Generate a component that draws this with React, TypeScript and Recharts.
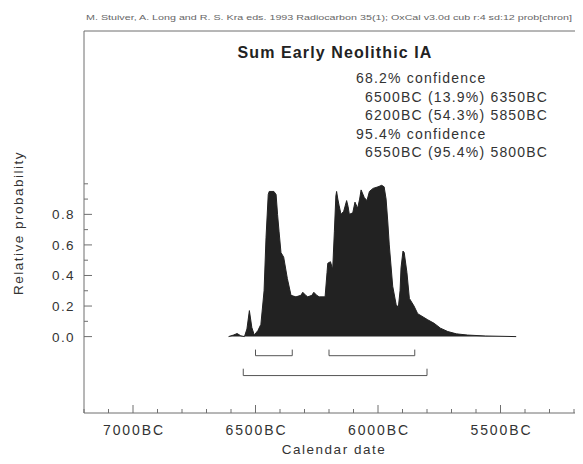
import { AreaChart, Area, XAxis, YAxis, ReferenceLine } from "recharts";

// summed probability (years BC, relative probability)
const yearsBC = [
  6610, 6590, 6575, 6560, 6545, 6535, 6525, 6515, 6505, 6490, 6478, 6465, 6457, 6448, 6444,
  6425, 6416, 6410, 6404, 6396, 6385, 6370, 6355, 6335, 6315, 6307, 6295, 6287, 6270, 6262,
  6250, 6240, 6216, 6208, 6205, 6194, 6185, 6178, 6172, 6169, 6164, 6159, 6151, 6140, 6128,
  6122, 6117, 6103, 6094, 6083, 6075, 6069, 6056, 6045, 6035, 6020, 6000, 5985, 5975, 5967,
  5960, 5954, 5940, 5926, 5917, 5910, 5906, 5898, 5893, 5882, 5872, 5853, 5838, 5797, 5771,
  5745, 5715, 5680, 5634, 5560, 5436,
];
const probability = [
  0, 0.01, 0.02, 0.005, 0, 0.05, 0.17, 0.06, 0.01, 0.04, 0.08, 0.3, 0.65, 0.93, 0.95,
  0.95, 0.93, 0.8, 0.69, 0.55, 0.52, 0.38, 0.27, 0.26, 0.27, 0.29, 0.27, 0.26, 0.27, 0.29,
  0.27, 0.26, 0.26, 0.42, 0.48, 0.49, 0.44, 0.69, 0.92, 0.95, 0.9, 0.86, 0.8, 0.82, 0.89,
  0.85, 0.8, 0.81, 0.88, 0.84, 0.9, 0.96, 0.91, 0.89, 0.95, 0.97, 0.98, 0.99, 0.98, 0.9,
  0.75, 0.6, 0.33, 0.21, 0.19, 0.3, 0.45, 0.56, 0.55, 0.42, 0.25, 0.2, 0.15, 0.11, 0.087,
  0.055, 0.033, 0.018, 0.01, 0.004, 0,
];

const xTickYears = [
  7200, 7100, 7000, 6900, 6800, 6700, 6600, 6500, 6400, 6300, 6200, 6100, 6000, 5900, 5800,
  5700, 5600, 5500, 5400, 5300, 5200, 5100, 5000,
];
const xLabelYears = [7000, 6500, 6000, 5500];
const yTickValues = [0, 0.1, 0.2, 0.3, 0.4, 0.5, 0.6, 0.7, 0.8, 0.9, 1.0];
const yLabelValues = [0, 0.2, 0.4, 0.6, 0.8];

// highest probability ranges [from, to] in years BC
const ranges68 = [
  [6500, 6350],
  [6200, 5850],
];
const ranges95 = [[6550, 5800]];

const title = "Sum Early Neolithic IA";
const header =
  "M. Stuiver, A. Long and R. S. Kra eds. 1993 Radiocarbon 35(1); OxCal v3.0d cub r:4 sd:12 prob[chron]";
const confidenceText = [
  { text: "68.2% confidence", indent: false },
  { text: "6500BC (13.9%) 6350BC", indent: true },
  { text: "6200BC (54.3%) 5850BC", indent: true },
  { text: "95.4% confidence", indent: false },
  { text: "6550BC (95.4%) 5800BC", indent: true },
];

const data = yearsBC.map((yr, i) => ({ date: -yr, p: probability[i] }));

const FONT = '"Liberation Sans", Arial, sans-serif';
const INK = "#333";
const AXIS = "#6f6f6f";
const FILL = "#222";

function YTick(props: any) {
  const { x, y, payload } = props;
  const v = payload.value;
  const major = yLabelValues.includes(v);
  return (
    <g>
      <line x1={x} x2={x + (major ? 8 : 4)} y1={y} y2={y} stroke={AXIS} />
      {major && (
        <text x={x - 9} y={y + 5} textAnchor="end" fontSize={13.5} letterSpacing={1.4} fill={INK} fontFamily={FONT}>
          {v.toFixed(1)}
        </text>
      )}
    </g>
  );
}

function XTick(props: any) {
  const { x, y, payload } = props;
  const yr = -payload.value;
  const major = xLabelYears.includes(yr);
  return (
    <g>
      <line x1={x} x2={x} y1={y} y2={y - (major ? 8 : 4)} stroke={AXIS} />
      {major && (
        <text x={x + 1} y={y + 22} textAnchor="middle" fontSize={14} letterSpacing={1.9} fill={INK} fontFamily={FONT}>
          {yr}BC
        </text>
      )}
    </g>
  );
}

function bracket(from: number, to: number, low: number, high: number, key: string) {
  const stroke = { stroke: "#555", strokeWidth: 1 };
  return [
    <ReferenceLine key={key + "h"} segment={[{ x: -from, y: low }, { x: -to, y: low }]} {...stroke} />,
    <ReferenceLine key={key + "l"} segment={[{ x: -from, y: low }, { x: -from, y: high }]} {...stroke} />,
    <ReferenceLine key={key + "r"} segment={[{ x: -to, y: low }, { x: -to, y: high }]} {...stroke} />,
  ];
}

export default function App() {
  return (
    <div style={{ position: "relative", width: 575, height: 456, overflow: "hidden", background: "#fff" }}>
      <AreaChart width={640} height={456} data={data} margin={{ top: 21, right: 25, bottom: 11, left: 16 }}>
        <XAxis
          dataKey="date"
          type="number"
          domain={[-7200, -5000]}
          ticks={xTickYears.map((y) => -y)}
          interval={0}
          height={40}
          tickSize={0}
          tickMargin={0}
          tickLine={false}
          tick={<XTick />}
          axisLine={{ stroke: AXIS }}
        />
        <XAxis
          xAxisId="top"
          orientation="top"
          type="number"
          domain={[-7200, -5000]}
          height={2}
          tick={false}
          tickLine={false}
          axisLine={{ stroke: AXIS }}
        />
        <YAxis
          type="number"
          domain={[-0.5, 2]}
          ticks={yTickValues}
          interval={0}
          width={60}
          tickSize={0}
          tickMargin={0}
          tickLine={false}
          tick={<YTick />}
          axisLine={{ stroke: AXIS }}
        />
        <Area
          type="linear"
          dataKey="p"
          baseValue={0}
          stroke={FILL}
          strokeWidth={1}
          fill={FILL}
          fillOpacity={1}
          isAnimationActive={false}
        />
        {ranges68.flatMap(([a, b], i) => bracket(a, b, -0.125, -0.085, "r68" + i))}
        {ranges95.flatMap(([a, b], i) => bracket(a, b, -0.255, -0.21, "r95" + i))}
      </AreaChart>
      <svg
        width={575}
        height={456}
        style={{ position: "absolute", left: 0, top: 0, pointerEvents: "none" }}
        fontFamily={FONT}
      >
        <text x={78} y={12} fontSize={7} fill="#666" textLength={486} lengthAdjust="spacingAndGlyphs">
          {header}
        </text>
        <text x={327} y={50} textAnchor="middle" fontSize={16} fontWeight="bold" letterSpacing={1.1} fill="#222">
          {title}
        </text>
        {confidenceText.map((line, i) => (
          <text key={i} x={line.indent ? 357 : 348} y={75 + i * 18.5} fontSize={14} letterSpacing={1.2} fill={INK}>
            {line.text}
          </text>
        ))}
        <text x={326} y={446} textAnchor="middle" fontSize={13.5} letterSpacing={1.5} fill={INK}>
          Calendar date
        </text>
        <text
          transform="translate(15 215) rotate(-90)"
          textAnchor="middle"
          fontSize={13.5}
          letterSpacing={1.5}
          fill={INK}
        >
          Relative probability
        </text>
      </svg>
    </div>
  );
}
